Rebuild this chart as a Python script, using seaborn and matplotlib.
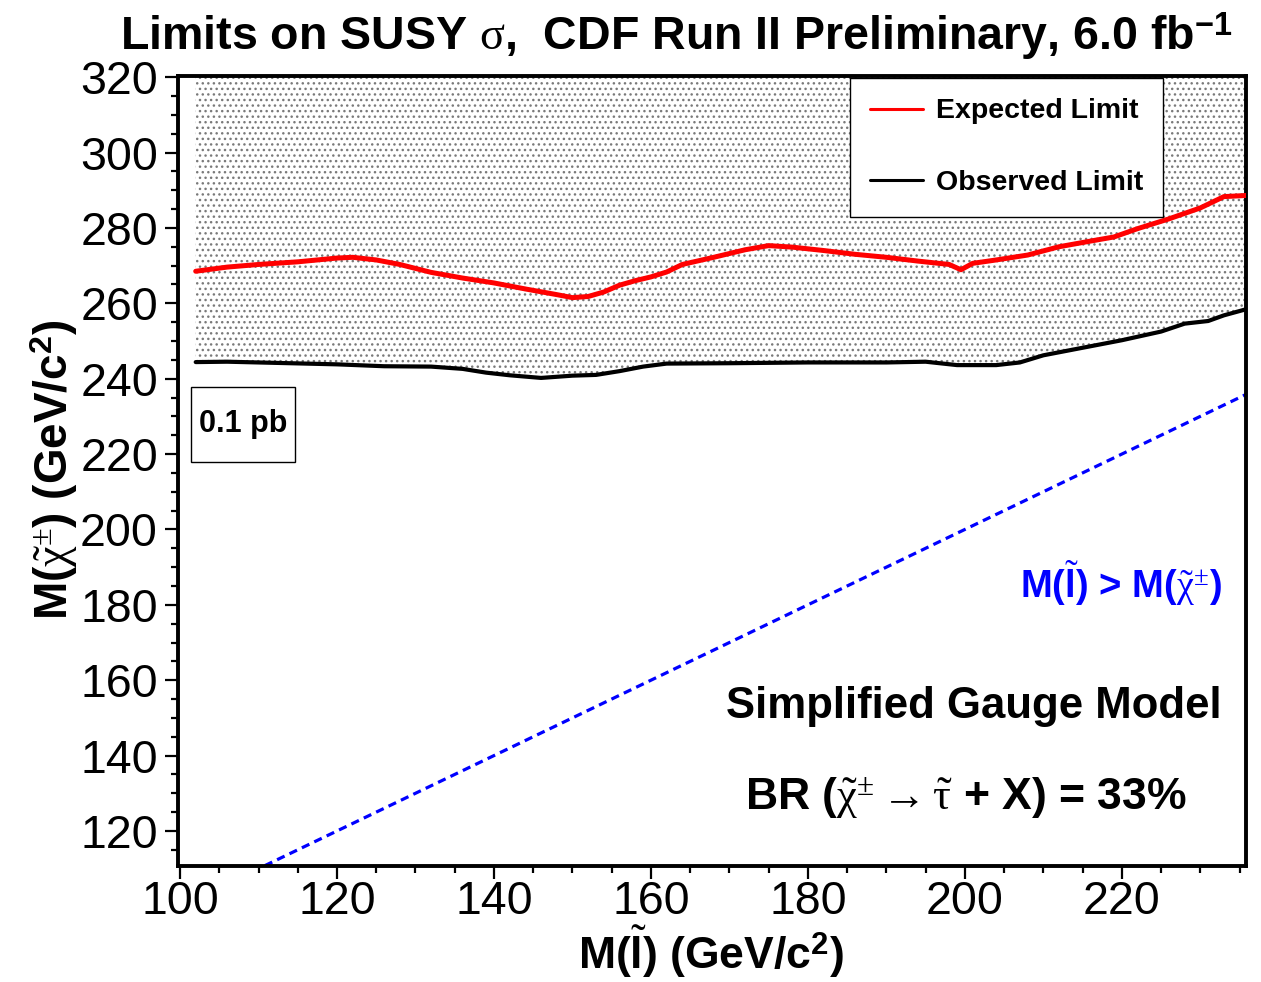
import matplotlib
matplotlib.use("Agg")
import matplotlib.pyplot as plt
import seaborn as sns
from matplotlib.ticker import MultipleLocator
from matplotlib.patches import Rectangle
from matplotlib.lines import Line2D

# Expected 95% CL limit (chargino mass vs slepton mass), GeV/c^2
exp_slepton = [102, 106, 110, 115, 120, 122, 125, 128, 132, 136, 140, 144, 148,
               150, 152, 154, 156, 158, 160, 162, 164, 168, 172, 175, 178, 182,
               186, 190, 194, 198, 199.5, 201, 204, 208, 212, 216, 219, 222,
               226, 230, 233, 235.8]
exp_chargino = [268.5, 269.6, 270.3, 271.0, 272.0, 272.2, 271.5, 270.3, 268.2,
                266.7, 265.4, 263.8, 262.3, 261.5, 261.8, 263.0, 264.8, 266.0,
                267.0, 268.3, 270.3, 272.2, 274.2, 275.3, 274.9, 274.0, 273.0,
                272.2, 271.2, 270.3, 268.9, 270.6, 271.5, 272.8, 275.0, 276.5,
                277.6, 279.8, 282.4, 285.3, 288.3, 288.6]

# Observed limit
obs_slepton = [102, 106, 112, 120, 126, 132, 136, 139, 142, 146, 150, 153, 156,
               159, 162, 170, 180, 190, 195, 199, 204, 207, 210, 215, 220, 225,
               228, 231, 233, 235.8]
obs_chargino = [244.4, 244.5, 244.2, 243.8, 243.3, 243.2, 242.6, 241.6, 240.9,
                240.2, 240.8, 241.0, 242.0, 243.2, 244.0, 244.1, 244.3, 244.3,
                244.5, 243.6, 243.6, 244.3, 246.2, 248.2, 250.2, 252.5, 254.6,
                255.3, 256.8, 258.4]

# Kinematic boundary M(slepton) = M(chargino)
diag_mass = [99.75, 235.8]

x_range = (99.75, 235.8)
y_range = (110.7, 320.3)
x_ticks = [100, 120, 140, 160, 180, 200, 220]
y_ticks = [120, 140, 160, 180, 200, 220, 240, 260, 280, 300, 320]

sns.set_style("ticks")
plt.rcParams.update({
    "font.family": ["Liberation Sans", "DejaVu Sans"],
    "text.color": "black",
    "axes.labelcolor": "black",
    "xtick.color": "black",
    "ytick.color": "black",
    "mathtext.fontset": "custom",
    "mathtext.rm": "Liberation Serif",
    "mathtext.it": "Liberation Serif",
    "mathtext.bf": "Liberation Sans:bold",
    "mathtext.sf": "Liberation Sans",
    "mathtext.fallback": "cm",
    "hatch.linewidth": 1.0,
})

fig = plt.figure(figsize=(12.61, 9.82), dpi=100)
ax = fig.add_axes([0.1412, 0.1181, 0.8468, 0.8045])

# Excluded region: stippled above the observed limit
ax.fill_between(obs_slepton, obs_chargino, y_range[1], facecolor="none",
                edgecolor="#7a7a7a", hatch="...", linewidth=0, zorder=1)

sns.lineplot(x=diag_mass, y=diag_mass, color="#0000ff", linewidth=2.3,
             linestyle=(0, (2.6, 1.7)), ax=ax, zorder=2)
sns.lineplot(x=obs_slepton, y=obs_chargino, color="black",
             linewidth=3.0, ax=ax, zorder=3, sort=False)
sns.lineplot(x=exp_slepton, y=exp_chargino, color="#ff0000", linewidth=3.6,
             ax=ax, zorder=4, sort=False)

ax.set_xlim(*x_range)
ax.set_ylim(*y_range)
ax.set_xticks(x_ticks)
ax.set_yticks(y_ticks)
ax.xaxis.set_minor_locator(MultipleLocator(5))
ax.yaxis.set_minor_locator(MultipleLocator(5))
ax.tick_params(axis="both", which="major", direction="out", length=9.5,
               width=1.6, labelsize=33.5, colors="black")
ax.tick_params(axis="both", which="minor", direction="out", length=5,
               width=1.6)
ax.tick_params(axis="x", which="major", pad=0.5)
ax.tick_params(axis="y", which="major", pad=5)
for side in ["top", "bottom", "left", "right"]:
    ax.spines[side].set_linewidth(2.8)
    ax.spines[side].set_color("black")
    ax.spines[side].set_visible(True)

ax.set_xlabel(r"M($\tilde{\mathbf{l}}$) (GeV/c$^{\mathbf{2}}$)",
              fontsize=32, fontweight="bold", va="center")
ax.xaxis.set_label_coords(0.499, -0.108)
ax.set_ylabel(r"M($\tilde{\chi}^{\pm}$) (GeV/c$^{\mathbf{2}}$)",
              fontsize=33, fontweight="bold", va="center")
ax.yaxis.set_label_coords(-0.116, 0.501)

fig.text(0.536, 1 - 37 / 982,
         r"Limits on SUSY $\sigma$,  CDF Run II Preliminary, 6.0 fb$^{\mathbf{-1}}$",
         ha="center", va="center", fontsize=33.5, fontweight="bold")

handles = [Line2D([], [], color="#ff0000", linewidth=2.2),
           Line2D([], [], color="black", linewidth=2.2)]
leg = ax.legend(handles, ["Expected Limit", "Observed Limit"],
                loc="upper left", bbox_to_anchor=(0.629, 0.9975),
                borderaxespad=0, prop={"weight": "bold", "size": 20.5},
                frameon=True, fancybox=False, framealpha=1, edgecolor="black",
                handlelength=1.85, handletextpad=0.45, labelspacing=1.6,
                borderpad=0.72)
leg.get_frame().set_linewidth(1.0)
leg.set_zorder(6)

# Cross-section label box
ax.add_patch(Rectangle((0.0122, 0.5114), 0.0974, 0.0949, transform=ax.transAxes,
                       facecolor="white", edgecolor="black", linewidth=1.0,
                       zorder=5))
ax.text(0.0609, 0.5589, "0.1 pb", transform=ax.transAxes, ha="center",
        va="center", fontsize=22, fontweight="bold", zorder=6)

ax.text(0.9775, 0.358, r"M($\tilde{\mathbf{l}}$) > M($\tilde{\chi}^{\pm}$)",
        transform=ax.transAxes, ha="right", va="center", fontsize=27.5,
        fontweight="bold", color="#0000ff", zorder=6)
ax.text(0.9775, 0.2025, "Simplified Gauge Model", transform=ax.transAxes,
        ha="right", va="center", fontsize=31.5, fontweight="bold", zorder=6)
ax.text(0.738, 0.0873,
        r"BR ($\tilde{\chi}^{\pm} \rightarrow \tilde{\tau}$ + X) = 33%",
        transform=ax.transAxes, ha="center", va="center", fontsize=32,
        fontweight="bold", zorder=6)

fig.savefig("out.png", dpi=100)
